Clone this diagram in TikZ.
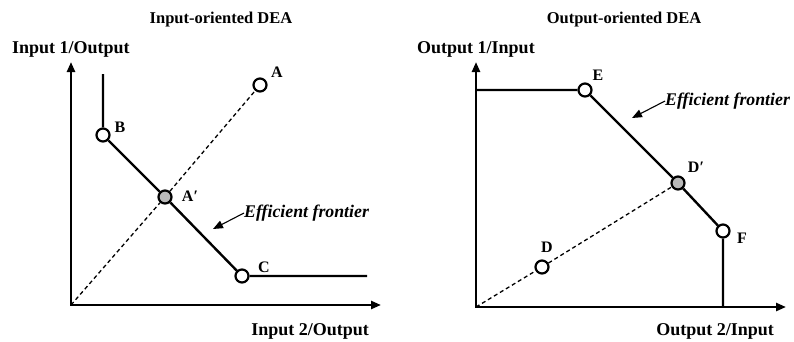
\documentclass[tikz,border=0pt]{standalone}
\usepackage{fontspec}
\setmainfont{Liberation Serif}
\usetikzlibrary{arrows.meta}
\begin{document}
\begin{tikzpicture}[x=1pt,y=-1pt,
 axis/.style={line width=2.4pt,{Triangle[length=10pt,width=8pt]}-{Triangle[length=10pt,width=8pt]}},
 front/.style={line width=2.4pt},
 dashline/.style={line width=1.3pt,dash pattern=on 4pt off 3pt},
 pt/.style={circle,draw,line width=2.2pt,fill=white,minimum size=13pt,inner sep=0pt},
 ptg/.style={pt,fill=gray!55},
 lab/.style={font=\bfseries\fontsize{16}{16}\selectfont,inner sep=0pt},
 axlab/.style={font=\bfseries\fontsize{18}{18}\selectfont,inner sep=0pt},
 ttl/.style={font=\bfseries\fontsize{16.5}{16.5}\selectfont,inner sep=0pt},
 eff/.style={font=\bfseries\itshape\fontsize{17.8}{17.8}\selectfont,inner sep=0pt},
 pointer/.style={line width=1.1pt,-{Triangle[length=10pt,width=8pt]}}]
\useasboundingbox (0,0) rectangle (794,341);
% ---------- left panel ----------
\coordinate (O1) at (71,305);
\coordinate (Y1) at (71,62);
\coordinate (X1) at (381,305);
\coordinate (Btop) at (103,74);
\coordinate (Cend) at (367,276);
\node[pt] (B) at (103,135) {};
\node[ptg] (Ap) at (165,197) {};
\node[pt] (C) at (242,276) {};
\node[pt] (A) at (260,85) {};
\draw[axis] (Y1) -- (O1) -- (X1);
\draw[dashline] (O1) -- (Ap) -- (A);
\draw[front] (Btop) -- (B) -- (Ap) -- (C) -- (Cend);
\node[ttl] (t1) at (221,20) {Input-oriented DEA};
\node[axlab,anchor=west] (ya1) at (12,49) {Input 1/Output};
\node[axlab,anchor=east] (xa1) at (369,331) {Input 2/Output};
\node[lab] (Al) at (277,72) {A};
\node[lab] (Bl) at (120,127) {B};
\node[lab] (Apl) at (190,196) {A′};
\node[lab] (Cl) at (264,267) {C};
\node[eff,anchor=west] (e1) at (244,213) {Efficient frontier};
\coordinate (e1tip) at (213,229);
\draw[pointer] (e1.west) -- (e1tip);
% ---------- right panel ----------
\coordinate (O2) at (476,307);
\coordinate (Y2) at (476,62);
\coordinate (X2) at (786,307);
\coordinate (Eleft) at (476,90);
\coordinate (Fbot) at (723,307);
\node[pt] (E) at (585,90) {};
\node[ptg] (Dp) at (678,183) {};
\node[pt] (F) at (723,231) {};
\node[pt] (D) at (542,267) {};
\draw[axis] (Y2) -- (O2) -- (X2);
\draw[dashline] (O2) -- (D) -- (Dp);
\draw[front] (Eleft) -- (E) -- (Dp) -- (F) -- (Fbot);
\node[ttl] (t2) at (624,20) {Output-oriented DEA};
\node[axlab,anchor=west] (ya2) at (417,49) {Output 1/Input};
\node[axlab,anchor=east] (xa2) at (774,331) {Output 2/Input};
\node[lab] (El) at (598,75) {E};
\node[lab] (Dpl) at (696,167) {D′};
\node[lab] (Fl) at (742,238) {F};
\node[lab] (Dl) at (547,247) {D};
\node[eff,anchor=west] (e2) at (665,101) {Efficient frontier};
\coordinate (e2tip) at (632,118);
\draw[pointer] (e2.west) -- (e2tip);
\end{tikzpicture}
\end{document}
